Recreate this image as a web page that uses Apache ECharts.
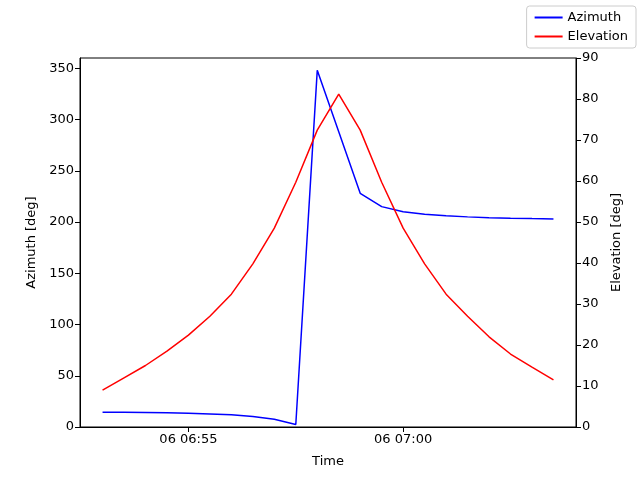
<!DOCTYPE html>
<html><head><meta charset="utf-8">
<script src="https://cdn.jsdelivr.net/npm/echarts@6/dist/echarts.min.js"></script>
<style>html,body{margin:0;padding:0;background:#fff}#c{width:640px;height:480px}</style>
</head><body><div id="c"></div>
<script>
const times = ["06:53:00","06:53:30","06:54:00","06:54:30","06:55:00","06:55:30","06:56:00","06:56:30","06:57:00","06:57:30","06:58:00","06:58:30","06:59:00","06:59:30","07:00:00","07:00:30","07:01:00","07:01:30","07:02:00","07:02:30","07:03:00","07:03:30"];
const azimuth = [14.5,14.3,14.1,13.8,13.4,12.8,11.9,10.3,7.6,2.5,348,288,228,215,210,207.5,206,205,204.2,203.7,203.3,203];
const elevation = [9.0,12,15,18.5,22.4,27,32.4,39.8,48.5,59.7,72.4,81.2,72.4,59.7,48.5,39.8,32.4,27,22,17.8,14.6,11.5];
const xTicks = [55,60];

function toMin(t){const p=t.split(':').map(Number);return (p[0]-6)*60+p[1]+p[2]/60;}
const xs = times.map(toMin);
const font = {fontFamily:'DejaVu Sans',fontSize:13,color:'#000'};
const chart = echarts.init(document.getElementById('c'));
chart.setOption({
  animation:false,
  grid:{left:80,right:64,top:58,bottom:53,show:true,borderColor:'#000',borderWidth:1},
  legend:{right:4,top:6,orient:'vertical',itemWidth:28,itemHeight:2,itemGap:6,
    backgroundColor:'#fff',borderColor:'#ccc',borderWidth:1,borderRadius:3,padding:[5,8],
    textStyle:font,icon:'rect',data:['Azimuth','Elevation']},
  xAxis:{type:'value',min:52.475,max:64.025,name:'Time',nameLocation:'middle',nameGap:28,nameTextStyle:font,
    splitLine:{show:false},axisLine:{lineStyle:{color:'#000'}},
    axisTick:{customValues:xTicks,length:5,lineStyle:{color:'#000'}},
    axisLabel:{customValues:xTicks,...font,margin:6,formatter:v=>'06 06:'+String(Math.round(v)).padStart(2,'0').replace(/^60$/,'00').replace(/^/,'')}},
  yAxis:[
    {type:'value',min:0,max:360,interval:50,name:'Azimuth [deg]',nameLocation:'middle',nameGap:42,nameTextStyle:font,
     splitLine:{show:false},axisLine:{show:true,lineStyle:{color:'#000'}},
     axisTick:{show:true,length:5,lineStyle:{color:'#000'}},axisLabel:{...font,margin:6,showMaxLabel:false}},
    {type:'value',min:0,max:90,interval:10,position:'right',name:'Elevation [deg]',nameLocation:'middle',nameGap:34,nameTextStyle:font,
     splitLine:{show:false},axisLine:{show:true,lineStyle:{color:'#000'}},
     axisTick:{show:true,length:5,lineStyle:{color:'#000'}},axisLabel:{...font,margin:6}}
  ],
  series:[
    {name:'Azimuth',type:'line',yAxisIndex:0,showSymbol:false,color:'#0000ff',lineStyle:{width:1.5,color:'#0000ff'},
     data:xs.map((x,i)=>[x,azimuth[i]])},
    {name:'Elevation',type:'line',yAxisIndex:1,showSymbol:false,color:'#ff0000',lineStyle:{width:1.5,color:'#ff0000'},
     data:xs.map((x,i)=>[x,elevation[i]])}
  ]
});
// fix label for 07:00
chart.setOption({xAxis:{axisLabel:{formatter:v=>{const m=Math.round(v);const h=7+Math.floor((m-60)/60);return m>=60?'06 07:'+String(m-60).padStart(2,'0'):'06 06:'+String(m).padStart(2,'0');}}}});
</script></body></html>
